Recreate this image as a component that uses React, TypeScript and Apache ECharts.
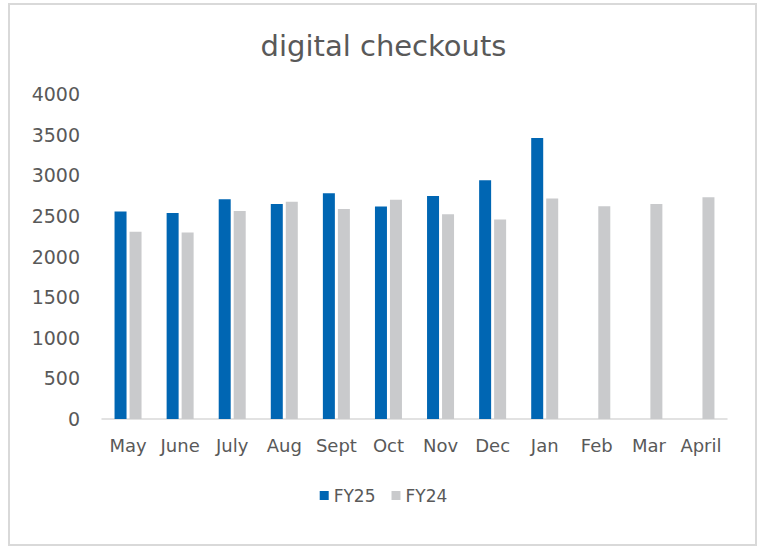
import React, { useEffect, useRef } from "react";
import * as echarts from "echarts";

const categories = ["May", "June", "July", "Aug", "Sept", "Oct", "Nov", "Dec", "Jan", "Feb", "Mar", "April"];
const fy25 = [2555, 2535, 2705, 2645, 2780, 2615, 2745, 2940, 3460, null, null, null];
const fy24 = [2305, 2295, 2560, 2675, 2585, 2700, 2520, 2455, 2715, 2620, 2645, 2730];
const yTicks = { min: 0, max: 4000, interval: 500 };

const FONT = "'DejaVu Sans', sans-serif";
const TEXT = "#595959";

export default function App() {
  const ref = useRef<HTMLDivElement>(null);
  useEffect(() => {
    if (!ref.current) return;
    const chart = echarts.init(ref.current, undefined, { renderer: "svg" });
    chart.setOption({
      animation: false,
      backgroundColor: "#ffffff",
      title: {
        text: "digital checkouts",
        left: "center",
        top: 26,
        textStyle: { fontFamily: FONT, fontSize: 29, fontWeight: "normal", color: TEXT },
      },
      graphic: [
        {
          type: "rect",
          shape: { x: 9, y: 4, width: 747, height: 541 },
          style: { fill: "none", stroke: "#D9D9D9", lineWidth: 2 },
          silent: true,
        },
      ],
      legend: {
        top: 482,
        left: "center",
        itemWidth: 9,
        itemHeight: 9,
        itemGap: 16,
        icon: "rect",
        textStyle: { fontFamily: FONT, fontSize: 17, color: TEXT },
        data: ["FY25", "FY24"],
      },
      grid: { left: 102, right: 40, top: 94, bottom: 127, containLabel: false },
      xAxis: {
        type: "category",
        data: categories,
        axisLine: { lineStyle: { color: "#D9D9D9", width: 1.5 } },
        axisTick: { show: false },
        axisLabel: { fontFamily: FONT, fontSize: 18, color: TEXT, margin: 17, interval: 0 },
      },
      yAxis: {
        type: "value",
        min: yTicks.min,
        max: yTicks.max,
        interval: yTicks.interval,
        splitLine: { show: false },
        axisLine: { show: false },
        axisTick: { show: false },
        axisLabel: {
          fontFamily: FONT,
          fontSize: 19,
          color: TEXT,
          margin: 22,
          formatter: (v: number) => String(v),
        },
      },
      series: [
        {
          name: "FY25",
          type: "bar",
          data: fy25,
          barWidth: 12,
          barGap: "25%",
          itemStyle: { color: "#0066B3" },
        },
        {
          name: "FY24",
          type: "bar",
          data: fy24,
          barWidth: 12,
          itemStyle: { color: "#C9CACC" },
        },
      ],
    });
    return () => chart.dispose();
  }, []);
  return (
    <div
      ref={ref}
      style={{ position: "absolute", left: 0, top: 0, width: 767, height: 546 }}
    />
  );
}
